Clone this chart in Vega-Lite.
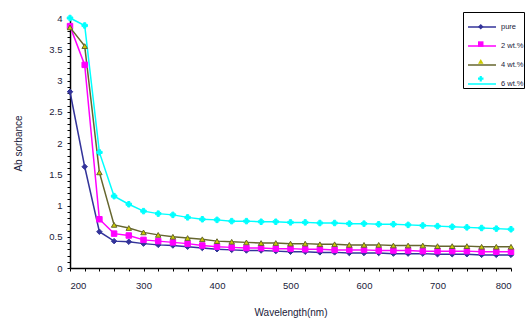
{
  "$schema": "https://vega.github.io/schema/vega-lite/v6.json",
  "width": 441,
  "height": 250,
  "autosize": {"type": "none"},
  "padding": {"left": 70, "top": 18, "right": 14, "bottom": 56},
  "background": "white",
  "data": {
    "values": [
      {"wl": 200, "series": "pure", "abs": 2.82}, {"wl": 220, "series": "pure", "abs": 1.62}, {"wl": 240, "series": "pure", "abs": 0.58}, {"wl": 260, "series": "pure", "abs": 0.43}, {"wl": 280, "series": "pure", "abs": 0.42}, {"wl": 300, "series": "pure", "abs": 0.39}, {"wl": 320, "series": "pure", "abs": 0.37}, {"wl": 340, "series": "pure", "abs": 0.36}, {"wl": 360, "series": "pure", "abs": 0.34}, {"wl": 380, "series": "pure", "abs": 0.32}, {"wl": 400, "series": "pure", "abs": 0.3}, {"wl": 420, "series": "pure", "abs": 0.29}, {"wl": 440, "series": "pure", "abs": 0.28}, {"wl": 460, "series": "pure", "abs": 0.28}, {"wl": 480, "series": "pure", "abs": 0.27}, {"wl": 500, "series": "pure", "abs": 0.26}, {"wl": 520, "series": "pure", "abs": 0.26}, {"wl": 540, "series": "pure", "abs": 0.25}, {"wl": 560, "series": "pure", "abs": 0.25}, {"wl": 580, "series": "pure", "abs": 0.24}, {"wl": 600, "series": "pure", "abs": 0.24}, {"wl": 620, "series": "pure", "abs": 0.24}, {"wl": 640, "series": "pure", "abs": 0.23}, {"wl": 660, "series": "pure", "abs": 0.23}, {"wl": 680, "series": "pure", "abs": 0.23}, {"wl": 700, "series": "pure", "abs": 0.22}, {"wl": 720, "series": "pure", "abs": 0.22}, {"wl": 740, "series": "pure", "abs": 0.22}, {"wl": 760, "series": "pure", "abs": 0.21}, {"wl": 780, "series": "pure", "abs": 0.21}, {"wl": 800, "series": "pure", "abs": 0.21},
      {"wl": 200, "series": "2 wt.%", "abs": 3.87}, {"wl": 220, "series": "2 wt.%", "abs": 3.25}, {"wl": 240, "series": "2 wt.%", "abs": 0.78}, {"wl": 260, "series": "2 wt.%", "abs": 0.55}, {"wl": 280, "series": "2 wt.%", "abs": 0.52}, {"wl": 300, "series": "2 wt.%", "abs": 0.45}, {"wl": 320, "series": "2 wt.%", "abs": 0.43}, {"wl": 340, "series": "2 wt.%", "abs": 0.41}, {"wl": 360, "series": "2 wt.%", "abs": 0.39}, {"wl": 380, "series": "2 wt.%", "abs": 0.36}, {"wl": 400, "series": "2 wt.%", "abs": 0.34}, {"wl": 420, "series": "2 wt.%", "abs": 0.33}, {"wl": 440, "series": "2 wt.%", "abs": 0.32}, {"wl": 460, "series": "2 wt.%", "abs": 0.32}, {"wl": 480, "series": "2 wt.%", "abs": 0.31}, {"wl": 500, "series": "2 wt.%", "abs": 0.31}, {"wl": 520, "series": "2 wt.%", "abs": 0.3}, {"wl": 540, "series": "2 wt.%", "abs": 0.3}, {"wl": 560, "series": "2 wt.%", "abs": 0.29}, {"wl": 580, "series": "2 wt.%", "abs": 0.29}, {"wl": 600, "series": "2 wt.%", "abs": 0.29}, {"wl": 620, "series": "2 wt.%", "abs": 0.28}, {"wl": 640, "series": "2 wt.%", "abs": 0.28}, {"wl": 660, "series": "2 wt.%", "abs": 0.28}, {"wl": 680, "series": "2 wt.%", "abs": 0.27}, {"wl": 700, "series": "2 wt.%", "abs": 0.27}, {"wl": 720, "series": "2 wt.%", "abs": 0.27}, {"wl": 740, "series": "2 wt.%", "abs": 0.27}, {"wl": 760, "series": "2 wt.%", "abs": 0.26}, {"wl": 780, "series": "2 wt.%", "abs": 0.26}, {"wl": 800, "series": "2 wt.%", "abs": 0.26},
      {"wl": 200, "series": "4 wt.%", "abs": 3.85}, {"wl": 220, "series": "4 wt.%", "abs": 3.55}, {"wl": 240, "series": "4 wt.%", "abs": 1.53}, {"wl": 260, "series": "4 wt.%", "abs": 0.69}, {"wl": 280, "series": "4 wt.%", "abs": 0.64}, {"wl": 300, "series": "4 wt.%", "abs": 0.57}, {"wl": 320, "series": "4 wt.%", "abs": 0.53}, {"wl": 340, "series": "4 wt.%", "abs": 0.5}, {"wl": 360, "series": "4 wt.%", "abs": 0.48}, {"wl": 380, "series": "4 wt.%", "abs": 0.46}, {"wl": 400, "series": "4 wt.%", "abs": 0.43}, {"wl": 420, "series": "4 wt.%", "abs": 0.42}, {"wl": 440, "series": "4 wt.%", "abs": 0.41}, {"wl": 460, "series": "4 wt.%", "abs": 0.4}, {"wl": 480, "series": "4 wt.%", "abs": 0.4}, {"wl": 500, "series": "4 wt.%", "abs": 0.39}, {"wl": 520, "series": "4 wt.%", "abs": 0.39}, {"wl": 540, "series": "4 wt.%", "abs": 0.38}, {"wl": 560, "series": "4 wt.%", "abs": 0.38}, {"wl": 580, "series": "4 wt.%", "abs": 0.37}, {"wl": 600, "series": "4 wt.%", "abs": 0.37}, {"wl": 620, "series": "4 wt.%", "abs": 0.37}, {"wl": 640, "series": "4 wt.%", "abs": 0.36}, {"wl": 660, "series": "4 wt.%", "abs": 0.36}, {"wl": 680, "series": "4 wt.%", "abs": 0.36}, {"wl": 700, "series": "4 wt.%", "abs": 0.35}, {"wl": 720, "series": "4 wt.%", "abs": 0.35}, {"wl": 740, "series": "4 wt.%", "abs": 0.35}, {"wl": 760, "series": "4 wt.%", "abs": 0.34}, {"wl": 780, "series": "4 wt.%", "abs": 0.34}, {"wl": 800, "series": "4 wt.%", "abs": 0.34},
      {"wl": 200, "series": "6 wt.%", "abs": 4.0}, {"wl": 220, "series": "6 wt.%", "abs": 3.88}, {"wl": 240, "series": "6 wt.%", "abs": 1.85}, {"wl": 260, "series": "6 wt.%", "abs": 1.15}, {"wl": 280, "series": "6 wt.%", "abs": 1.02}, {"wl": 300, "series": "6 wt.%", "abs": 0.91}, {"wl": 320, "series": "6 wt.%", "abs": 0.87}, {"wl": 340, "series": "6 wt.%", "abs": 0.85}, {"wl": 360, "series": "6 wt.%", "abs": 0.81}, {"wl": 380, "series": "6 wt.%", "abs": 0.78}, {"wl": 400, "series": "6 wt.%", "abs": 0.77}, {"wl": 420, "series": "6 wt.%", "abs": 0.75}, {"wl": 440, "series": "6 wt.%", "abs": 0.75}, {"wl": 460, "series": "6 wt.%", "abs": 0.74}, {"wl": 480, "series": "6 wt.%", "abs": 0.74}, {"wl": 500, "series": "6 wt.%", "abs": 0.73}, {"wl": 520, "series": "6 wt.%", "abs": 0.73}, {"wl": 540, "series": "6 wt.%", "abs": 0.72}, {"wl": 560, "series": "6 wt.%", "abs": 0.72}, {"wl": 580, "series": "6 wt.%", "abs": 0.71}, {"wl": 600, "series": "6 wt.%", "abs": 0.71}, {"wl": 620, "series": "6 wt.%", "abs": 0.7}, {"wl": 640, "series": "6 wt.%", "abs": 0.7}, {"wl": 660, "series": "6 wt.%", "abs": 0.69}, {"wl": 680, "series": "6 wt.%", "abs": 0.68}, {"wl": 700, "series": "6 wt.%", "abs": 0.67}, {"wl": 720, "series": "6 wt.%", "abs": 0.66}, {"wl": 740, "series": "6 wt.%", "abs": 0.65}, {"wl": 760, "series": "6 wt.%", "abs": 0.64}, {"wl": 780, "series": "6 wt.%", "abs": 0.63}, {"wl": 800, "series": "6 wt.%", "abs": 0.62}
    ]
  },
  "encoding": {
    "x": {
      "field": "wl",
      "type": "quantitative",
      "scale": {"domain": [200, 800], "nice": false, "zero": false},
      "axis": {
        "title": "Wavelength(nm)",
        "values": [200, 220, 240, 260, 280, 300, 320, 340, 360, 380, 400, 420, 440, 460, 480, 500, 520, 540, 560, 580, 600, 620, 640, 660, 680, 700, 720, 740, 760, 780, 800],
        "labelExpr": "datum.value % 100 === 0 ? toString(datum.value) : ''",
        "labelOverlap": false,
        "labelPadding": 9,
        "tickSize": 3,
        "titleY": 44,
        "titleBaseline": "middle"
      }
    },
    "y": {
      "field": "abs",
      "type": "quantitative",
      "scale": {"domain": [0, 4], "nice": false},
      "axis": {
        "title": "Ab sorbance",
        "values": [0, 0.1, 0.2, 0.3, 0.4, 0.5, 0.6, 0.7, 0.8, 0.9, 1, 1.1, 1.2, 1.3, 1.4, 1.5, 1.6, 1.7, 1.8, 1.9, 2, 2.1, 2.2, 2.3, 2.4, 2.5, 2.6, 2.7, 2.8, 2.9, 3, 3.1, 3.2, 3.3, 3.4, 3.5, 3.6, 3.7, 3.8, 3.9, 4],
        "labelExpr": "round(datum.value * 10) % 5 === 0 ? toString(round(datum.value * 10) / 10) : ''",
        "labelOverlap": false,
        "labelPadding": 5,
        "tickSize": 3,
        "titleX": -52,
        "titleY": 125,
        "titleAngle": 270,
        "titleBaseline": "middle",
        "titleAlign": "center"
      }
    },
    "stroke": {
      "field": "series",
      "type": "nominal",
      "scale": {"domain": ["pure", "2 wt.%", "4 wt.%", "6 wt.%"], "range": ["#33339a", "#ff00ff", "#66662e", "#00ffff"]},
      "legend": {
        "title": null,
        "orient": "none",
        "legendX": 393,
        "legendY": -6,
        "symbolType": "stroke",
        "symbolSize": 784,
        "symbolStrokeWidth": 1.5,
        "symbolOffset": 4,
        "labelFontSize": 7.5,
        "labelOffset": 4,
        "rowPadding": -3.8,
        "padding": 0,
        "strokeColor": "#000000",
        "fillColor": "transparent"
      }
    }
  },
  "layer": [
    {
      "mark": {"type": "line", "strokeWidth": 1.5},
      "encoding": {
        "order": {"field": "wl", "type": "quantitative"}
      }
    },
    {
      "mark": {"type": "point", "filled": false, "strokeWidth": 1, "opacity": 1},
      "encoding": {
        "fill": {
          "field": "series",
          "type": "nominal",
          "scale": {"domain": ["6 wt.%", "4 wt.%", "2 wt.%", "pure"], "range": ["#00ffff", "#cccc00", "#ff00ff", "#33339a"]},
          "legend": {
            "title": null,
            "orient": "none",
            "legendX": 407,
            "legendY": 5,
            "values": ["pure", "2 wt.%", "4 wt.%", "6 wt.%"],
            "symbolSize": 30,
            "symbolStrokeWidth": 0,
            "labelFontSize": 7.5,
            "labelExpr": "''",
            "rowPadding": 8.3,
            "padding": 0
          }
        },
        "shape": {
          "field": "series",
          "type": "nominal",
          "scale": {"domain": ["6 wt.%", "4 wt.%", "2 wt.%", "pure"], "range": ["cross", "triangle-up", "square", "diamond"]},
          "legend": {
            "title": null,
            "orient": "none",
            "legendX": 407,
            "legendY": 5,
            "values": ["pure", "2 wt.%", "4 wt.%", "6 wt.%"],
            "symbolSize": 30,
            "symbolStrokeWidth": 0,
            "labelFontSize": 7.5,
            "labelExpr": "''",
            "rowPadding": 8.3,
            "padding": 0
          }
        },
        "size": {"value": 30}
      }
    }
  ],
  "config": {
    "view": {"stroke": null},
    "font": "Liberation Sans",
    "axis": {
      "grid": false,
      "domainColor": "#000000",
      "domainWidth": 1.5,
      "tickColor": "#000000",
      "tickWidth": 1,
      "labelFont": "Liberation Sans",
      "labelFontSize": 9.5,
      "labelColor": "#1a1a3a",
      "titleFont": "Liberation Sans",
      "titleFontSize": 10,
      "titleFontWeight": "normal",
      "titleColor": "#1a1a3a"
    },
    "legend": {
      "labelFont": "Liberation Sans",
      "labelColor": "#1a1a3a"
    }
  }
}
